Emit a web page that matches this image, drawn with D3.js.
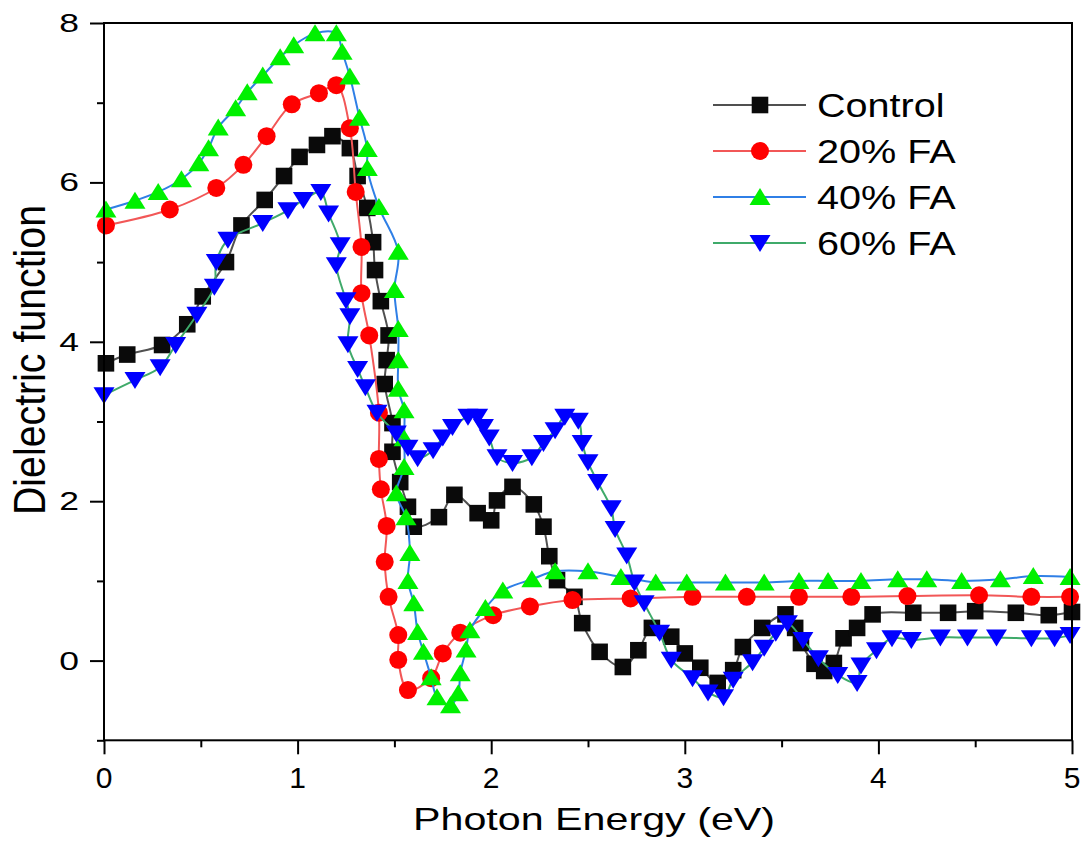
<!DOCTYPE html>
<html><head><meta charset="utf-8">
<script src="https://cdn.jsdelivr.net/npm/d3@7"></script>
<style>
html,body{margin:0;padding:0;background:#fff;}
svg{display:block;}
text{font-family:"Liberation Sans",Arial,sans-serif;fill:#000;}
</style></head>
<body><svg id="chart" width="1081" height="841"></svg>
<script>
// ---- data ----
const seriesNames = ["Control", "20% FA", "40% FA", "60% FA"];

const controlX = [0.01,0.12,0.30,0.43,0.51,0.63,0.71,0.83,0.93,1.01,1.10,1.18,1.27,1.31,1.36,1.39,1.40,1.43,1.47,1.46,1.45,1.49,1.49,1.53,1.57,1.60,1.73,1.81,1.93,2.00,2.03,2.11,2.22,2.27,2.30,2.34,2.43,2.47,2.56,2.68,2.76,2.83,2.93,3.00,3.08,3.17,3.25,3.30,3.40,3.52,3.57,3.60,3.67,3.72,3.77,3.82,3.89,3.97,4.18,4.36,4.50,4.71,4.88,5.00];
const controlY = [3.73,3.84,3.96,4.22,4.57,5.00,5.46,5.78,6.08,6.32,6.47,6.58,6.43,6.08,5.68,5.25,4.90,4.51,4.08,3.77,3.47,2.98,2.62,2.24,1.93,1.68,1.80,2.08,1.85,1.76,2.01,2.18,1.96,1.68,1.31,1.01,0.80,0.47,0.11,-0.08,0.13,0.41,0.30,0.09,-0.09,-0.28,-0.12,0.17,0.41,0.58,0.41,0.22,-0.04,-0.13,-0.03,0.28,0.41,0.58,0.60,0.60,0.62,0.60,0.57,0.61];

const fa20X = [0.01,0.34,0.58,0.72,0.84,0.97,1.11,1.20,1.27,1.30,1.33,1.33,1.37,1.42,1.42,1.43,1.46,1.45,1.47,1.52,1.52,1.57,1.69,1.75,1.84,2.01,2.20,2.42,2.72,3.04,3.32,3.59,3.86,4.15,4.52,4.79,4.99];
const fa20Y = [5.46,5.66,5.93,6.22,6.58,6.98,7.12,7.22,6.68,5.88,5.19,4.61,4.08,3.11,2.53,2.15,1.69,1.24,0.80,0.32,0.01,-0.37,-0.22,0.09,0.35,0.57,0.68,0.76,0.78,0.80,0.80,0.80,0.80,0.81,0.82,0.80,0.80];

const fa40X = [0.01,0.16,0.28,0.40,0.49,0.54,0.59,0.68,0.74,0.82,0.91,0.98,1.09,1.20,1.23,1.27,1.32,1.36,1.36,1.42,1.52,1.50,1.52,1.52,1.52,1.55,1.55,1.55,1.51,1.56,1.58,1.57,1.60,1.62,1.65,1.69,1.72,1.79,1.83,1.84,1.87,1.89,1.97,2.06,2.21,2.33,2.50,2.67,2.85,3.01,3.21,3.41,3.59,3.74,3.91,4.10,4.25,4.43,4.63,4.80,4.99];
const fa40Y = [5.66,5.77,5.88,6.04,6.24,6.43,6.69,6.93,7.13,7.34,7.57,7.72,7.87,7.87,7.64,7.33,6.81,6.42,6.18,5.69,5.13,4.65,4.16,3.77,3.41,3.14,2.79,2.43,2.10,1.80,1.35,1.00,0.72,0.36,0.11,-0.21,-0.46,-0.56,-0.41,-0.16,0.14,0.38,0.66,0.88,1.02,1.12,1.12,1.05,0.98,0.98,0.98,0.98,1.00,1.00,1.00,1.02,1.02,1.00,1.02,1.06,1.05];

const fa60X = [0.00,0.16,0.29,0.37,0.48,0.57,0.58,0.64,0.82,0.95,1.03,1.12,1.16,1.22,1.20,1.25,1.27,1.26,1.31,1.35,1.41,1.51,1.57,1.62,1.70,1.75,1.80,1.88,1.93,1.96,1.99,2.03,2.11,2.21,2.27,2.33,2.38,2.45,2.47,2.50,2.55,2.62,2.64,2.70,2.74,2.79,2.87,2.93,3.04,3.12,3.20,3.25,3.35,3.41,3.47,3.53,3.61,3.69,3.79,3.89,3.91,3.99,4.07,4.17,4.32,4.46,4.61,4.79,4.91,4.99];
const fa60Y = [3.33,3.52,3.68,3.96,4.34,4.69,5.00,5.28,5.49,5.65,5.78,5.88,5.61,5.21,4.96,4.52,4.32,3.97,3.66,3.43,3.11,2.85,2.67,2.54,2.64,2.80,2.93,3.06,3.06,2.93,2.80,2.55,2.48,2.55,2.73,2.89,3.06,3.01,2.73,2.49,2.24,1.91,1.65,1.32,0.98,0.72,0.35,0.01,-0.22,-0.40,-0.46,-0.24,-0.02,0.16,0.35,0.47,0.26,0.03,-0.18,-0.28,-0.06,0.13,0.28,0.26,0.29,0.29,0.29,0.28,0.28,0.32];

const xMajorTicks = [0,1,2,3,4,5];
const xMinorTicks = [0.5,1.5,2.5,3.5,4.5];
const yMajorTicks = [0,2,4,6,8];
const yMinorTicks = [-1,1,3,5,7];
const xTitle = "Photon Energy (eV)";
const yTitle = "Dielectric function";

// ---- styles ----
const lineColors = ["#505050", "#f25757", "#2f7fe6", "#3faa6a"];
const markerColors = ["#0a0a0a", "#ff0000", "#00f000", "#0000ff"];
const markerTypes = ["square", "circle", "up", "down"];

const svg = d3.select("#chart");
const L = 104, R = 1072, T = 23, B = 740.3;
const x = d3.scaleLinear().domain([0, 5]).range([L, R]);
const y = d3.scaleLinear().domain([-1, 8]).range([B, T]);

const data = [
  d3.zip(controlX, controlY),
  d3.zip(fa20X, fa20Y),
  d3.zip(fa40X, fa40Y),
  d3.zip(fa60X, fa60Y)
];

function markerPath(type) {
  if (type === "square") return "M-8.3,-8.3H8.3V8.3H-8.3Z";
  if (type === "circle") return d3.symbol(d3.symbolCircle, Math.PI * 9 * 9)();
  if (type === "up") return "M0,-9L10.5,8L-10.5,8Z";
  return "M0,9L10.5,-8L-10.5,-8Z";
}

// series
const line = d3.line().x(d => x(d[0])).y(d => y(d[1])).curve(d3.curveCatmullRom.alpha(0.5));
data.forEach((pts, i) => {
  const g = svg.append("g");
  g.append("path").attr("d", line(pts)).attr("fill", "none")
    .attr("stroke", lineColors[i]).attr("stroke-width", 2);
  g.selectAll("path.m").data(pts).enter().append("path").attr("class", "m")
    .attr("d", markerPath(markerTypes[i]))
    .attr("transform", d => `translate(${x(d[0])},${y(d[1])})`)
    .attr("fill", markerColors[i]);
});

// frame
svg.append("rect").attr("x", L).attr("y", T).attr("width", R - L).attr("height", B - T)
  .attr("fill", "none").attr("stroke", "#000").attr("stroke-width", 2);

// axes
const xAxis = svg.append("g").attr("transform", `translate(0,${B})`)
  .call(d3.axisBottom(x).tickValues(xMajorTicks).tickSize(14).tickFormat(""));
const xAxisMinor = svg.append("g").attr("transform", `translate(0,${B})`)
  .call(d3.axisBottom(x).tickValues(xMinorTicks).tickSize(7).tickFormat(""));
const yAxis = svg.append("g").attr("transform", `translate(${L},0)`)
  .call(d3.axisLeft(y).tickValues(yMajorTicks).tickSize(14).tickFormat(""));
const yAxisMinor = svg.append("g").attr("transform", `translate(${L},0)`)
  .call(d3.axisLeft(y).tickValues(yMinorTicks).tickSize(7).tickFormat(""));
[xAxis, xAxisMinor, yAxis, yAxisMinor].forEach(a => {
  a.select(".domain").remove();
  a.selectAll("line").attr("stroke", "#000").attr("stroke-width", 2);
});

// tick labels
svg.append("g").selectAll("text").data(xMajorTicks).enter().append("text")
  .attr("x", d => x(d)).attr("y", 788).attr("text-anchor", "middle")
  .attr("font-size", 30).text(d => d);
svg.append("g").selectAll("text").data(yMajorTicks).enter().append("text")
  .attr("transform", d => `translate(79,${y(d)}) scale(1.42,1)`)
  .attr("dy", "0.36em").attr("text-anchor", "end")
  .attr("font-size", 25).text(d => d);

// axis titles
svg.append("text").attr("transform", "translate(594,830) scale(1.33,1)")
  .attr("text-anchor", "middle").attr("font-size", 31).text(xTitle);
svg.append("text").attr("transform", "translate(45,360) scale(1.33,1) rotate(-90)")
  .attr("text-anchor", "middle").attr("font-size", 34)
  .attr("textLength", 310).attr("lengthAdjust", "spacingAndGlyphs").text(yTitle);

// legend
const legend = svg.append("g");
seriesNames.forEach((name, i) => {
  const cy = 105 + i * 46;
  legend.append("line").attr("x1", 713).attr("x2", 806).attr("y1", cy).attr("y2", cy)
    .attr("stroke", lineColors[i]).attr("stroke-width", 2);
  legend.append("path").attr("d", markerPath(markerTypes[i]))
    .attr("transform", `translate(760,${cy})`).attr("fill", markerColors[i]);
  legend.append("text").attr("transform", `translate(817,${cy + 12}) scale(1.2,1)`)
    .attr("font-size", 33).text(name);
});
</script></body></html>
